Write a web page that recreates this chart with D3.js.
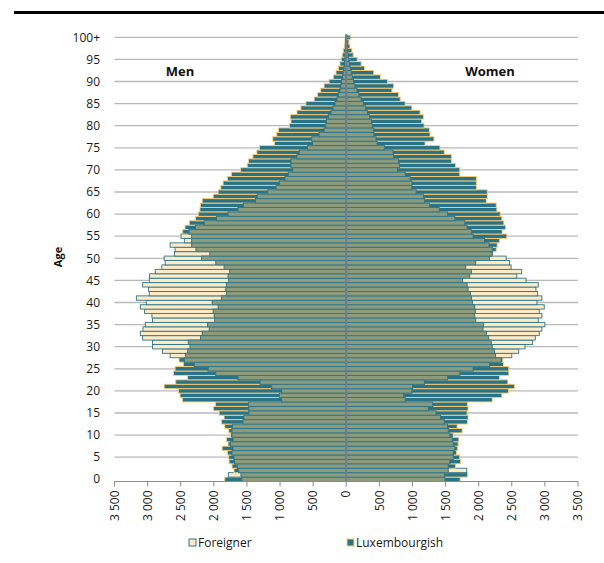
<!DOCTYPE html>
<html><head><meta charset="utf-8">
<script src="https://cdn.jsdelivr.net/npm/d3@7"></script>
<style>
html,body{margin:0;padding:0;background:#fff;}
svg{display:block;font-family:"Open Sans","Noto Sans",sans-serif;}
</style></head>
<body><svg id="c" width="604" height="563"></svg>
<script>
// ---- data (ages 0 .. 100+) ----
const ages = d3.range(0, 101).map(a => a === 100 ? "100+" : String(a));
const ageTicks = ["0","5","10","15","20","25","30","35","40","45","50","55","60","65","70","75","80","85","90","95","100+"];
const valueTicks = [-3500,-3000,-2500,-2000,-1500,-1000,-500,0,500,1000,1500,2000,2500,3000,3500];
const seriesNames = ["Foreigner", "Luxembourgish"];

const menLux = [1835,1590,1695,1725,1770,1775,1795,1875,1785,1810,1745,1775,1835,1885,1845,1920,2005,1975,2475,2510,
  2535,2750,2575,2395,2610,2585,2460,2525,2425,2395,2360,2385,2200,2175,2070,2095,1985,1995,2010,1935,
  2025,1885,1810,1820,1810,1775,1785,1760,1845,1970,2185,2060,2270,2335,2335,2335,2470,2435,2370,2275,
  2235,2210,2200,2175,2010,1935,1895,1860,1795,1735,1595,1495,1475,1410,1350,1310,1085,1110,1050,1025,
  860,835,845,745,685,610,485,435,385,335,260,195,155,120,95,75,60,45,30,20,15];
const menFor = [1575,1780,1625,1645,1685,1695,1725,1710,1750,1710,1725,1725,1720,1560,1545,1470,1470,1475,975,1010,
  975,1125,1300,1635,1970,2085,2295,2445,2660,2775,2925,2925,3075,3110,3070,3035,2925,2935,3045,3110,
  3020,3170,2975,2985,3075,2975,2970,2885,2785,2735,2750,2595,2585,2660,2445,2495,2375,2275,2145,1960,
  1785,1635,1550,1370,1345,1185,1060,1010,925,875,810,835,835,745,710,585,510,520,410,335,
  310,300,270,230,200,170,140,120,95,80,70,55,45,35,25,20,15,10,8,5,5];
const womenLux = [1720,1830,1540,1650,1725,1715,1665,1680,1690,1700,1615,1750,1675,1830,1840,1825,1840,1830,2205,2350,
  2450,2540,2440,2315,2455,2455,2375,2365,2255,2240,2205,2190,2150,2115,2065,2075,1955,1940,1950,1940,
  1905,1890,1875,1840,1825,1755,1865,1890,1805,1955,2165,2215,2265,2280,2315,2425,2355,2405,2380,2350,
  2325,2275,2265,2115,2130,2130,1965,1965,1965,1715,1715,1650,1590,1590,1480,1415,1190,1325,1265,1255,
  1175,1140,1165,1115,990,890,815,790,690,715,625,515,415,275,225,165,105,85,55,40,60];
const womenFor = [1490,1480,1820,1540,1565,1615,1615,1640,1615,1600,1565,1540,1530,1480,1425,1355,1240,1305,890,865,
  990,1000,1180,1530,1715,1915,2165,2340,2500,2605,2700,2815,2855,2915,2955,3000,2900,2955,2915,2990,
  2880,2955,2890,2865,2900,2715,2575,2650,2490,2465,2415,2200,2205,2155,2090,1915,1890,1825,1790,1640,
  1530,1405,1255,1180,1165,1055,990,990,965,890,775,805,790,715,705,575,465,450,415,415,
  390,380,350,320,290,260,225,190,160,130,110,90,75,60,45,35,25,15,10,8,5];

// ---- styles ----
const C = {
  peach: "#fdeac6", teal: "#2a7387", olive: "#8d9b7d",
  tealStroke: "#2e7589", orangeStroke: "#fdcd75",
  grid: "#b8b8b8", axis: "#8a8a8a", center: "#6b7f90"
};

const svg = d3.select("#c");
const x = d3.scaleLinear().domain([-3500, 3500]).range([114.5, 578]);
const y = d3.scaleBand().domain(ages).range([481.5, 35.1]).padding(0);
const bw = y.bandwidth();

// top rule
svg.append("rect").attr("x", 14).attr("y", 11).attr("width", 590).attr("height", 3).attr("fill", "#000");

// gridlines
svg.append("g").selectAll("line").data(ageTicks.filter(a => a !== "0")).join("line")
  .attr("x1", x(-3500)).attr("x2", x(3500))
  .attr("y1", d => y(d) + bw / 2).attr("y2", d => y(d) + bw / 2)
  .attr("stroke", C.grid).attr("stroke-width", 1.3);

// rows
const rows = [];
ages.forEach((a, i) => {
  rows.push({age: a, side: -1, lux: menLux[i], fr: menFor[i]});
  rows.push({age: a, side: 1, lux: womenLux[i], fr: womenFor[i]});
});
function rectFor(g, v, side) {
  const x0 = x(0), x1 = x(side * v);
  return g.attr("x", Math.min(x0, x1)).attr("width", Math.abs(x1 - x0));
}
const bars = svg.append("g");
// larger series first
rows.forEach(r => {
  const order = r.lux >= r.fr ? ["lux", "fr"] : ["fr", "lux"];
  order.forEach(k => {
    const rct = bars.append("rect").attr("y", y(r.age)).attr("height", bw);
    rectFor(rct, r[k], r.side);
    if (k === "lux") rct.attr("fill", C.teal).attr("stroke", C.orangeStroke).attr("stroke-width", 0.9);
    else rct.attr("fill", C.peach).attr("stroke", C.tealStroke).attr("stroke-width", 0.9);
  });
});
// overlap of both series
const ov = svg.append("g");
rows.forEach(r => {
  const rct = ov.append("rect").attr("y", y(r.age)).attr("height", bw)
    .attr("fill", C.olive).attr("stroke", C.tealStroke).attr("stroke-width", 0.9);
  rectFor(rct, d3.min([r.lux, r.fr]), r.side);
});

// center category axis
svg.append("line").attr("x1", x(0)).attr("x2", x(0)).attr("y1", 35.1).attr("y2", 481.5)
  .attr("stroke", C.center).attr("stroke-width", 2);
svg.append("g").selectAll("line").data(ageTicks).join("line")
  .attr("x1", x(0)).attr("x2", x(0) + 5)
  .attr("y1", d => y(d) + bw / 2).attr("y2", d => y(d) + bw / 2)
  .attr("stroke", "#8c8c8c").attr("stroke-width", 1);

// y labels
svg.append("g").selectAll("text").data(ageTicks).join("text")
  .attr("x", 100).attr("y", d => y(d) + bw / 2).attr("dy", "0.35em")
  .attr("text-anchor", "end").attr("font-size", 12).attr("fill", "#1a1a1a").text(d => d);

// x axis
const fmt = v => d3.format(",")(Math.abs(v)).replace(/,/g, " ");
const xa = svg.append("g").attr("transform", "translate(0,481.5)");
xa.append("line").attr("x1", x(-3500)).attr("x2", x(3500)).attr("stroke", C.axis).attr("stroke-width", 1);
xa.selectAll("line.t").data(valueTicks).join("line").attr("class", "t")
  .attr("x1", d => x(d)).attr("x2", d => x(d)).attr("y1", 0).attr("y2", 5)
  .attr("stroke", C.axis).attr("stroke-width", 1);
xa.selectAll("text").data(valueTicks).join("text")
  .attr("transform", d => `translate(${x(d)},9) rotate(-90)`)
  .attr("text-anchor", "end").attr("dy", "0.35em")
  .attr("font-size", 12).attr("fill", "#1a1a1a").text(fmt);

// titles
svg.append("text").attr("x", 180).attr("y", 76).attr("text-anchor", "middle")
  .attr("font-size", 13).attr("font-weight", "bold").attr("fill", "#111").text("Men");
svg.append("text").attr("x", 490).attr("y", 76).attr("text-anchor", "middle")
  .attr("font-size", 13).attr("font-weight", "bold").attr("fill", "#111").text("Women");
svg.append("text").attr("transform", "translate(62,257) rotate(-90)").attr("text-anchor", "middle")
  .attr("font-size", 11).attr("font-weight", "bold").attr("fill", "#111").text("Age");

// legend
const lg = svg.append("g").selectAll("g").data(seriesNames).join("g")
  .attr("transform", (d, i) => `translate(${i === 0 ? 189 : 347},539)`);
lg.append("rect").attr("width", 7).attr("height", 7)
  .attr("fill", d => d === "Foreigner" ? C.peach : C.teal)
  .attr("stroke", d => d === "Foreigner" ? C.tealStroke : C.orangeStroke).attr("stroke-width", 1);
lg.append("text").attr("x", 9).attr("y", 3.5).attr("dy", "0.35em")
  .attr("font-size", 12).attr("fill", "#1a1a1a").text(d => d);
</script></body></html>
